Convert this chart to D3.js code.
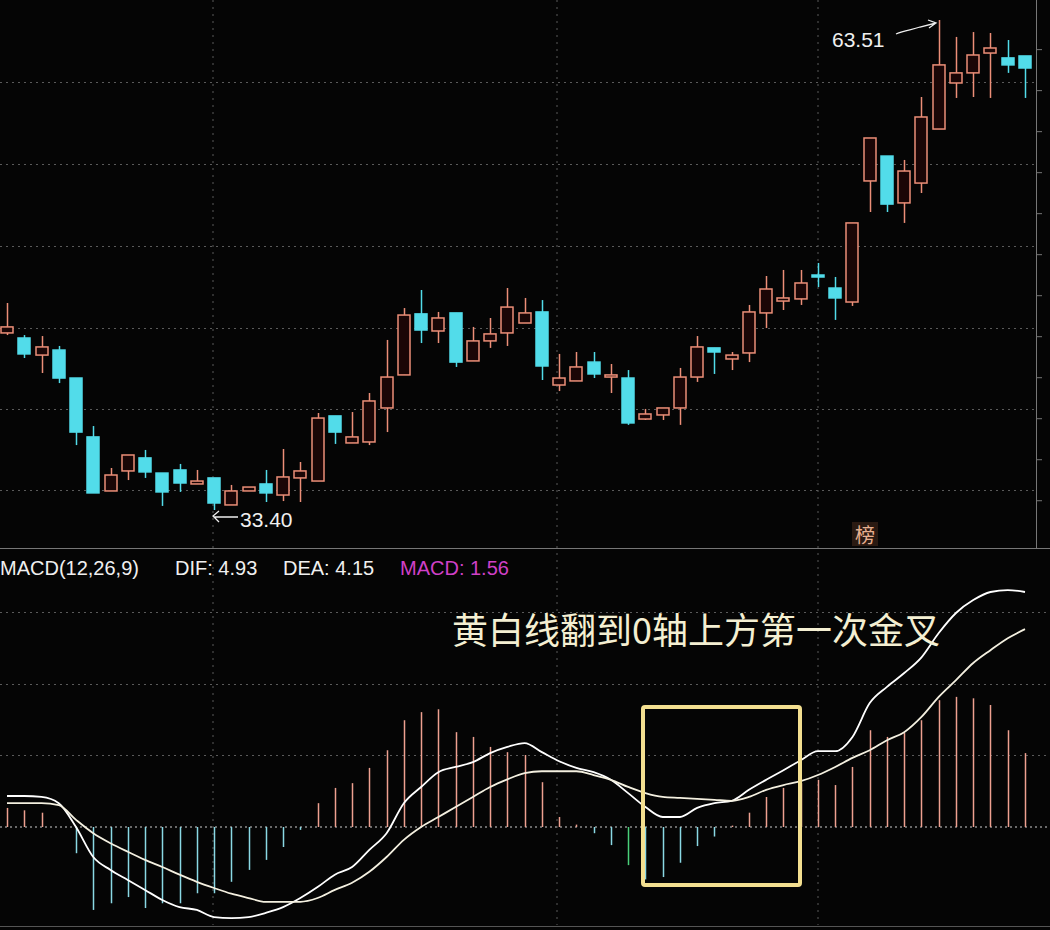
<!DOCTYPE html>
<html>
<head>
<meta charset="utf-8">
<script src="https://cdn.jsdelivr.net/npm/d3@7"></script>
<style>
  body { margin: 0; background: #050505; }
  svg { display: block; }
</style>
</head>
<body>
<div id="chart"></div>
<script>
const width = 1050;
const height = 930;

// candle data: open, close, high, low
const opens  = [44.28,43.97,42.92,43.23,41.51,37.89,34.57,35.80,36.60,35.67,35.86,35.00,35.37,33.71,34.57,35.00,34.32,35.37,35.18,39.18,37.52,37.58,39.67,41.70,45.45,44.40,45.51,42.56,43.79,44.28,44.89,45.57,
                41.08,41.33,42.49,41.57,41.51,38.99,39.24,39.67,41.57,43.36,42.68,43.05,45.51,46.24,46.37,47.84,47.04,46.18,53.62,55.15,52.27,53.49,56.81,59.64,60.26,61.48,61.18,61.30];
const closes = [44.65,42.99,43.42,41.51,38.19,34.45,35.55,36.78,35.74,34.51,35.06,35.18,33.83,34.57,34.81,34.45,35.43,35.80,39.05,38.19,37.89,40.10,41.57,45.38,44.46,45.20,42.49,43.79,44.22,45.87,45.51,42.25,
                41.51,42.19,41.76,41.70,38.75,39.30,39.67,41.57,43.42,43.11,42.92,45.57,46.98,46.43,47.35,47.72,46.43,51.04,56.26,52.20,54.23,57.55,60.75,60.26,61.36,61.79,60.75,60.56];
const highs  = [46.12,44.15,44.09,43.48,41.51,38.56,35.98,36.78,37.09,35.67,36.23,35.86,35.37,34.94,34.81,35.86,37.15,36.35,39.36,39.18,39.42,40.59,43.85,45.81,46.92,45.57,45.51,44.65,45.20,47.04,46.43,46.30,
                42.99,43.11,43.11,42.37,42.00,39.61,39.67,42.13,44.09,43.36,43.11,46.00,47.78,48.15,48.15,48.58,47.72,51.04,56.26,55.15,54.91,58.78,63.51,62.47,62.77,62.71,62.28,61.30];
const lows   = [44.15,42.74,41.82,41.20,37.39,34.45,34.57,35.24,35.37,33.65,34.51,35.00,33.40,33.71,34.57,33.89,33.95,33.89,35.18,37.46,37.52,37.39,38.19,41.70,43.66,43.66,42.19,42.56,43.36,43.48,44.89,41.39,
                40.71,41.33,41.51,40.59,38.63,38.93,38.93,38.63,41.27,41.76,42.00,42.49,44.58,45.69,46.00,47.10,45.08,45.94,51.71,51.71,51.04,52.88,56.81,58.72,58.78,58.72,60.26,58.72];

// MACD indicator values
const dif  = [0.65,0.65,0.63,0.5,0,-0.63,-0.9,-1.11,-1.32,-1.53,-1.68,-1.74,-1.89,-1.91,-1.89,-1.8,-1.68,-1.49,-1.26,-1.0,-0.84,-0.48,-0.13,0.5,0.84,1.15,1.26,1.36,1.55,1.68,1.76,1.57,
              1.38,1.24,1.15,0.99,0.71,0.42,0.21,0.21,0.4,0.5,0.55,0.78,0.99,1.19,1.4,1.59,1.59,1.89,2.6,2.94,3.23,3.56,4.07,4.49,4.76,4.93,4.97,4.93];
const dea  = [0.5,0.5,0.5,0.46,0.15,-0.13,-0.34,-0.52,-0.69,-0.84,-1.0,-1.15,-1.28,-1.4,-1.49,-1.57,-1.57,-1.57,-1.49,-1.32,-1.17,-0.94,-0.63,-0.27,0,0.21,0.42,0.63,0.84,1.0,1.13,1.17,
              1.17,1.17,1.09,0.99,0.84,0.71,0.63,0.61,0.59,0.57,0.55,0.63,0.78,0.88,0.96,1.09,1.26,1.45,1.61,1.82,1.99,2.31,2.73,3.08,3.44,3.71,3.96,4.15];
const hist = [0.4,0.35,0.3,0,-0.55,-1.74,-1.6,-1.47,-1.7,-1.6,-1.6,-1.39,-1.39,-1.15,-0.9,-0.69,-0.42,-0.06,0.5,0.82,0.92,1.24,1.61,2.24,2.41,2.47,1.99,1.89,1.68,1.57,1.51,0.94,
              0.21,0.05,-0.13,-0.38,-0.8,-1.1,-1.05,-0.75,-0.4,-0.2,0.03,0.3,0.63,0.82,0.92,0.99,0.88,1.26,2.03,1.89,1.97,2.24,2.66,2.73,2.70,2.56,2.03,1.55];

const priceGrid = [59.71, 54.67, 49.63, 44.59, 39.61, 34.63];
const macdGrid = [1.5, 3.0, 4.5];

const red = '#ec8f78';
const cyan = '#52dcea';
const grid = '#5a5a5a';

const svg = d3.select('#chart').append('svg')
    .attr('width', width)
    .attr('height', height)
    .style('background', '#050505');

const x = d3.scaleLinear().domain([0, opens.length - 1]).range([7, 1025]);
const y = d3.scaleLinear().domain([33.40, 63.51]).range([510, 20]);
const ym = d3.scaleLinear().domain([0, 4.93]).range([827, 592]);

// grid lines
svg.append('g').selectAll('line').data(priceGrid).join('line')
    .attr('x1', 0).attr('x2', 1036)
    .attr('y1', d => Math.round(y(d)) + 0.5).attr('y2', d => Math.round(y(d)) + 0.5)
    .attr('stroke', grid).attr('stroke-dasharray', '2,4');
svg.append('g').selectAll('line').data(macdGrid).join('line')
    .attr('x1', 0).attr('x2', 1050)
    .attr('y1', d => Math.round(ym(d)) + 0.5).attr('y2', d => Math.round(ym(d)) + 0.5)
    .attr('stroke', grid).attr('stroke-dasharray', '2,4');
svg.append('line')
    .attr('x1', 0).attr('x2', 1050).attr('y1', ym(0)).attr('y2', ym(0))
    .attr('stroke', '#cfcfcf').attr('stroke-dasharray', '2,3');
[213, 557, 818].forEach(vx => {
    svg.append('line').attr('x1', vx).attr('x2', vx).attr('y1', 0).attr('y2', 925)
        .attr('stroke', grid).attr('stroke-dasharray', '2,5');
});
// panel separator and right axis
svg.append('line').attr('x1', 0).attr('x2', 1050).attr('y1', 548.5).attr('y2', 548.5).attr('stroke', '#777');
svg.append('line').attr('x1', 0).attr('x2', 1050).attr('y1', 926.5).attr('y2', 926.5).attr('stroke', '#555');
svg.append('line').attr('x1', 1036.5).attr('x2', 1036.5).attr('y1', 0).attr('y2', 548).attr('stroke', '#777');
svg.append('g').attr('transform', 'translate(1036,0)')
    .call(d3.axisRight(y).tickValues(d3.range(34, 64, 2.52)).tickSize(6).tickFormat(''))
    .call(g => g.select('.domain').remove())
    .call(g => g.selectAll('line').attr('stroke', '#777'));

// candles
const candles = svg.append('g').selectAll('g').data(opens).join('g');
candles.append('line')
    .attr('x1', (d, i) => Math.round(x(i)) + 0.5).attr('x2', (d, i) => Math.round(x(i)) + 0.5)
    .attr('y1', (d, i) => y(highs[i])).attr('y2', (d, i) => y(lows[i]))
    .attr('stroke', (d, i) => closes[i] >= d ? red : cyan).attr('stroke-width', 1.5);
candles.append('rect')
    .attr('x', (d, i) => Math.round(x(i)) - 6)
    .attr('width', 12)
    .attr('y', (d, i) => y(Math.max(d, closes[i])))
    .attr('height', (d, i) => Math.max(2, Math.abs(y(d) - y(closes[i]))))
    .attr('fill', (d, i) => closes[i] >= d ? '#1a0606' : cyan)
    .attr('stroke', (d, i) => closes[i] >= d ? red : cyan)
    .attr('stroke-width', 1.5);

// annotations top panel
svg.append('text').attr('x', 832).attr('y', 47).text('63.51')
    .attr('fill', '#f0f0f0').attr('font-family', 'Liberation Sans, Arial').attr('font-size', 21);
svg.append('path').attr('d', 'M896,34 C905,30 912,30 920,27 L936,23 M928,20 L936,23 L929,28')
    .attr('fill', 'none').attr('stroke', '#eee').attr('stroke-width', 1.3);
svg.append('text').attr('x', 240).attr('y', 527).text('33.40')
    .attr('fill', '#f0f0f0').attr('font-family', 'Liberation Sans, Arial').attr('font-size', 21);
svg.append('path').attr('d', 'M238,517 L214,517 M219,511 L213,516 L219,522')
    .attr('fill', 'none').attr('stroke', '#eee').attr('stroke-width', 1.3);
svg.append('rect').attr('x', 852).attr('y', 522).attr('width', 26).attr('height', 24).attr('fill', '#2a1a12');
svg.append('text').attr('x', 865).attr('y', 543).attr('text-anchor', 'middle').text('榜')
    .attr('fill', '#e8b090').attr('font-family', 'Noto Sans CJK SC').attr('font-size', 20);

// MACD header
const hdr = svg.append('text').attr('y', 575)
    .attr('font-family', 'Liberation Sans, Arial').attr('font-size', 20);
hdr.append('tspan').attr('x', 0).attr('fill', '#f0f0f0').text('MACD(12,26,9)');
hdr.append('tspan').attr('x', 175).attr('fill', '#f0f0f0').text('DIF: 4.93');
hdr.append('tspan').attr('x', 283).attr('fill', '#f0f0f0').text('DEA: 4.15');
hdr.append('tspan').attr('x', 400).attr('fill', '#d040c8').text('MACD: 1.56');

// histogram
svg.append('g').selectAll('line').data(hist).join('line')
    .attr('x1', (d, i) => Math.round(x(i)) + 0.5).attr('x2', (d, i) => Math.round(x(i)) + 0.5)
    .attr('y1', ym(0)).attr('y2', d => ym(d))
    .attr('stroke', (d, i) => i === 36 ? '#4ad07a' : (d >= 0 ? '#eea090' : '#8ad8e4'))
    .attr('stroke-width', 1.5);

// DIF / DEA lines
const line = d3.line().x((d, i) => x(i)).y(d => ym(d)).curve(d3.curveMonotoneX);
svg.append('path').datum(dif).attr('d', line).attr('fill', 'none').attr('stroke', '#ffffff').attr('stroke-width', 1.8);
svg.append('path').datum(dea).attr('d', line).attr('fill', 'none').attr('stroke', '#f4f0e0').attr('stroke-width', 1.8);

// caption and highlight box
svg.append('text').attr('x', 452).attr('y', 644).text('黄白线翻到0轴上方第一次金叉')
    .attr('fill', '#f4efd2').attr('font-family', 'Noto Sans CJK SC').attr('font-size', 36);
svg.append('rect').attr('x', 643).attr('y', 707).attr('width', 157).attr('height', 178)
    .attr('fill', 'none').attr('stroke', '#f3df90').attr('stroke-width', 4).attr('rx', 2);
</script>
</body>
</html>
